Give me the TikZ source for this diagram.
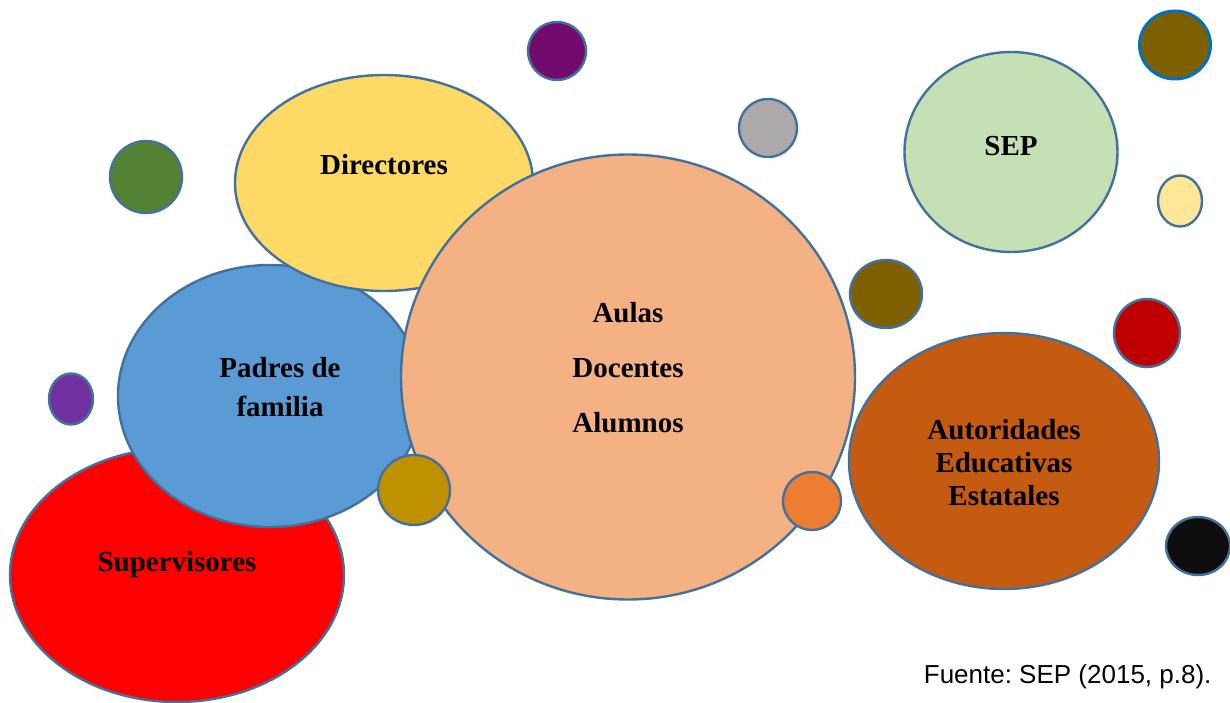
\documentclass[tikz,border=0pt]{standalone}
\usepackage{fontspec}
\setmainfont{Liberation Serif}
\newfontfamily\arialfont{Liberation Sans}
\usetikzlibrary{shapes.geometric}
\definecolor{rim}{HTML}{41719C}
\definecolor{rimblue}{HTML}{0070C0}
\definecolor{supred}{HTML}{FF0000}
\definecolor{padblue}{HTML}{5B9BD5}
\definecolor{diryellow}{HTML}{FFD966}
\definecolor{aulapeach}{HTML}{F4B183}
\definecolor{sepgreen}{HTML}{C5E0B4}
\definecolor{autorange}{HTML}{C55A11}
\definecolor{dotgold}{HTML}{BF9000}
\definecolor{dotorange}{HTML}{ED7D31}
\definecolor{dotgreen}{HTML}{548235}
\definecolor{dotviolet}{HTML}{7030A0}
\definecolor{dotplum}{HTML}{720A6E}
\definecolor{dotgray}{HTML}{AEAAAA}
\definecolor{dotolive}{HTML}{7F6000}
\definecolor{dotcream}{HTML}{FFE699}
\definecolor{dotred}{HTML}{C00000}
\definecolor{dotblack}{HTML}{0D0D0D}
\tikzset{
  bubble/.style={ellipse,draw=rim,line width=2.4pt,inner sep=0pt},
  tag/.style={font=\bfseries\fontsize{29}{35}\selectfont,align=center}
}
\begin{document}
\frenchspacing
\begin{tikzpicture}[x=1pt,y=-1pt]
\useasboundingbox (0,0) rectangle (1230,703);
% big bubbles, back to front
\node[bubble,fill=supred,minimum width=334pt,minimum height=254pt] (super) at (177,575) {};
\node[bubble,fill=padblue,minimum width=304pt,minimum height=262pt] (padres) at (270,396) {};
\node[bubble,fill=diryellow,minimum width=298pt,minimum height=216pt] (direc) at (384,183) {};
\node[bubble,fill=aulapeach,minimum width=454pt,minimum height=445pt] (aulas) at (628,377) {};
\node[bubble,fill=sepgreen,minimum width=213pt,minimum height=200pt] (sep) at (1011,152) {};
\node[bubble,fill=autorange,minimum width=310pt,minimum height=256pt] (autor) at (1004,461) {};
% small dots
\node[bubble,fill=dotgold,minimum width=72pt,minimum height=70pt] (gold) at (414,490) {};
\node[bubble,fill=dotorange,minimum width=58pt,minimum height=58pt] (orange) at (812,501) {};
\node[bubble,fill=dotgreen,minimum width=72pt,minimum height=72pt] (green) at (146,177) {};
\node[bubble,fill=dotviolet,minimum width=44pt,minimum height=51pt] (violet) at (71,399) {};
\node[bubble,fill=dotplum,minimum width=58pt,minimum height=58pt] (plum) at (557,51) {};
\node[bubble,fill=dotgray,minimum width=58pt,minimum height=58pt] (gray) at (768,128) {};
\node[bubble,draw=rimblue,line width=3pt,fill=dotolive,minimum width=71pt,minimum height=68pt] (olivetop) at (1175,45) {};
\node[bubble,fill=dotcream,minimum width=44pt,minimum height=51pt] (cream) at (1180,201) {};
\node[bubble,fill=dotolive,minimum width=72pt,minimum height=68pt] (olivemid) at (886,294) {};
\node[bubble,fill=dotred,minimum width=66pt,minimum height=68pt] (red) at (1147,333) {};
\node[bubble,fill=dotblack,minimum width=64pt,minimum height=58pt] (black) at (1198,546) {};
% labels
\node[tag] (tsuper) at (177,565) {Supervisores};
\node[tag,font=\bfseries\fontsize{29}{39}\selectfont] (tpadres) at (280,387) {Padres de\\familia};
\node[tag] (tdirec) at (384,165) {Directores};
\node[tag,font=\bfseries\fontsize{29}{55}\selectfont] (taulas) at (628,368) {Aulas\\Docentes\\Alumnos};
\node[tag] (tsep) at (1011,146) {SEP};
\node[tag,font=\bfseries\fontsize{29}{33}\selectfont] (tautor) at (1004,463) {Autoridades\\Educativas\\Estatales};
\node[anchor=east,font=\arialfont\fontsize{26}{31}\selectfont] (fuente) at (1215,677) {Fuente: SEP (2015, p.8).};
\end{tikzpicture}
\end{document}
